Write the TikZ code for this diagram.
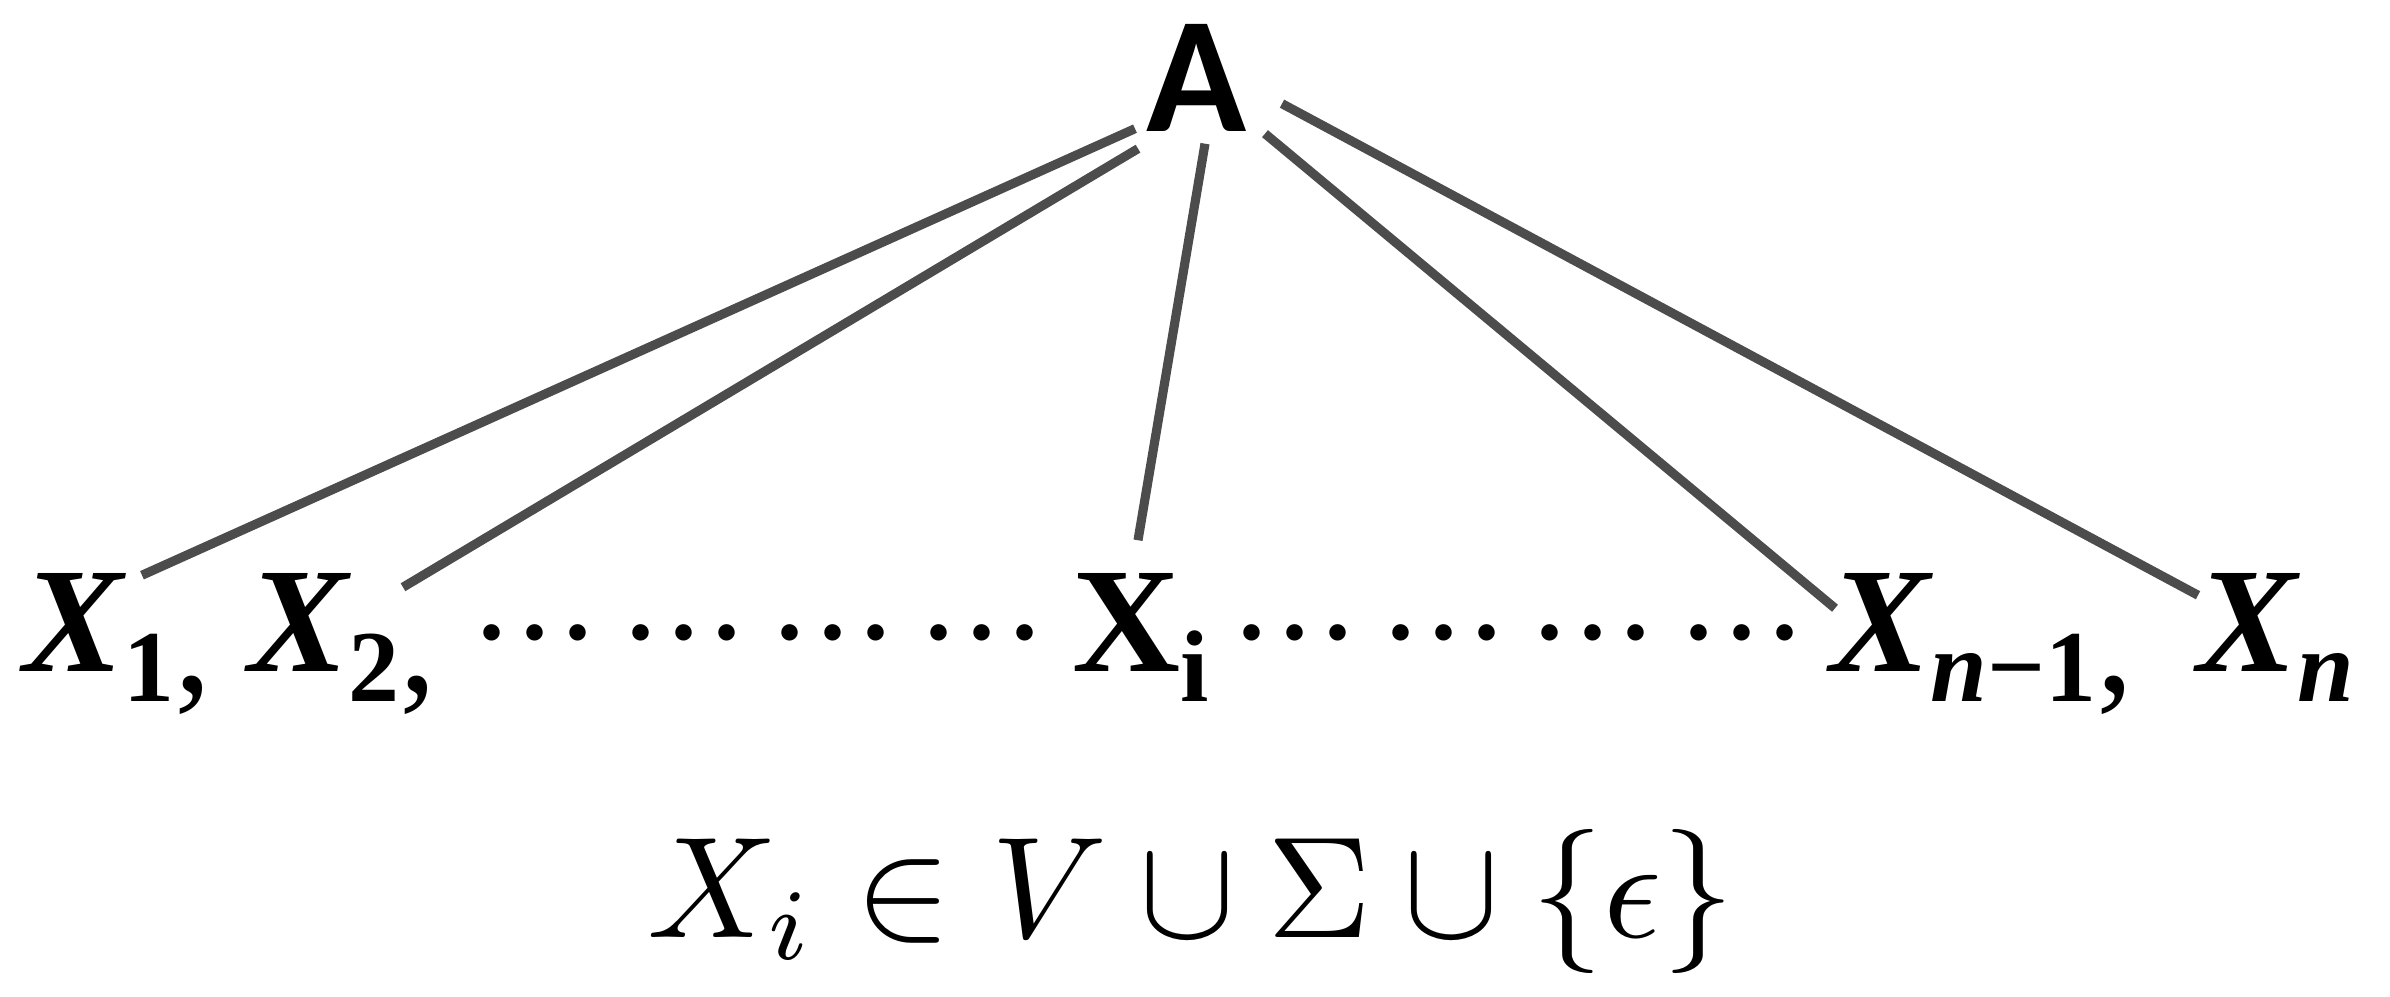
\documentclass[tikz,border=0pt]{standalone}
\usepackage{graphicx}
\usepackage{fontspec}
\newfontfamily\capfont{Carlito}
\newfontfamily\rowfont{Liberation Serif}
\newcommand{\lowsub}[1]{\raisebox{-0.3cm}{\fontsize{29}{30}\selectfont #1}}
\newcommand{\lowcomma}{\raisebox{-0.2cm}{\mdseries\upshape ,}}
\newcommand{\dotgroup}{\mathord{\cdotp}\mathord{\cdotp}\mathord{\cdotp}}
\newcommand{\dotrun}{\scalebox{4.4}{$\dotgroup\mkern2.4mu\dotgroup\mkern2.4mu\dotgroup\mkern2.4mu\dotgroup$}}

\begin{document}
\begin{tikzpicture}[
		branch/.style={line width=2.6pt, black!70},
		term/.style={inner sep=0pt, anchor=base west, font={\rowfont\fontsize{42.6}{50}\selectfont\bfseries}}]
		\useasboundingbox (0,0) rectangle (23.9,9.97);

		\node[inner sep=0pt, anchor=base, font={\capfont\fontsize{47}{56}\selectfont\bfseries}] (A) at (11.97,8.65) {A};

		\node[term] (x1) at (0.23,3.25) {\itshape X\lowsub{\upshape 1}\lowcomma};
		\node[term] (x2) at (2.48,3.25) {\itshape X\lowsub{\upshape 2}\lowcomma};
		\node[term] (xi) at (10.72,3.25) {X\lowsub{i}};
		\node[term] (xn1) at (18.30,3.25) {\itshape X\lowsub{n\upshape −1}\lowcomma};
		\node[term] (xn) at (21.97,3.25) {\itshape X\lowsub{n}};

		\node[inner sep=0pt, anchor=base west] (dl) at (4.70,3.25) {\dotrun};
		\node[inner sep=0pt, anchor=base west] (dr) at (12.30,3.25) {\dotrun};

		\node[inner sep=0pt, anchor=base] (rule) at (11.91,0.59) {\scalebox{4.1}{$X_i \in V \cup \Sigma \cup \{\epsilon\}$}};

		\draw[branch] ([shift={(-0.62,0.04)}]A.south) -- ([shift={(1.19,-0.02)}]x1.north west);
		\draw[branch] ([shift={(-0.59,-0.16)}]A.south) -- ([shift={(1.55,-0.14)}]x2.north west);
		\draw[branch] ([shift={(0.08,-0.11)}]A.south) -- ([shift={(0.66,0.33)}]xi.north west);
		\draw[branch] ([shift={(0.68,-0.01)}]A.south) -- ([shift={(0.05,-0.35)}]xn1.north west);
		\draw[branch] ([shift={(0.85,0.29)}]A.south) -- ([shift={(0.01,-0.22)}]xn.north west);
	\end{tikzpicture}
\end{document}
